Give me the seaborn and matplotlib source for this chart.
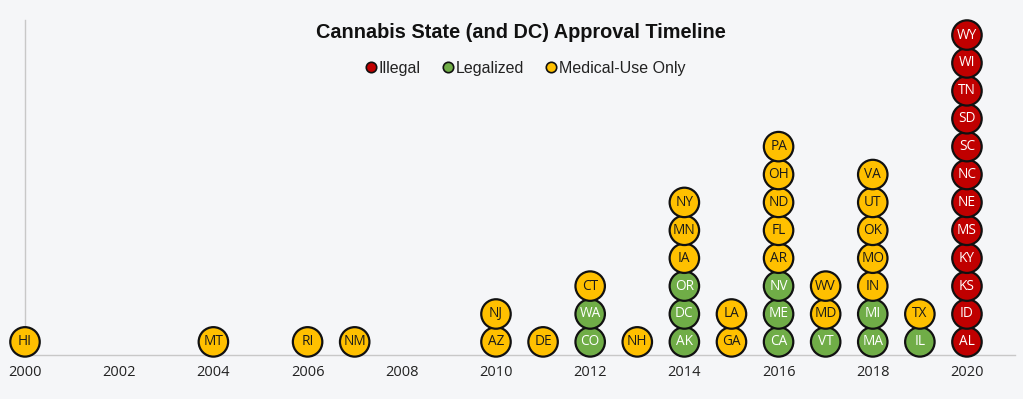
import matplotlib
matplotlib.use("Agg")
import matplotlib.pyplot as plt
import seaborn as sns
import pandas as pd

years = [2000, 2004, 2006, 2007, 2010, 2011, 2012, 2013, 2014, 2015, 2016, 2017, 2018, 2019, 2020]
states = [
    ["HI"], ["MT"], ["RI"], ["NM"], ["AZ", "NJ"], ["DE"],
    ["CO", "WA", "CT"], ["NH"],
    ["AK", "DC", "OR", "IA", "MN", "NY"],
    ["GA", "LA"],
    ["CA", "ME", "NV", "AR", "FL", "ND", "OH", "PA"],
    ["VT", "MD", "WV"],
    ["MA", "MI", "IN", "MO", "OK", "UT", "VA"],
    ["IL", "TX"],
    ["AL", "ID", "KS", "KY", "MS", "NE", "NC", "SC", "SD", "TN", "WI", "WY"],
]
L, M, I = "Legalized", "Medical-Use Only", "Illegal"
statuses = [
    [M], [M], [M], [M], [M, M], [M],
    [L, L, M], [M],
    [L, L, L, M, M, M],
    [M, M],
    [L, L, L, M, M, M, M, M],
    [L, M, M],
    [L, L, M, M, M, M, M],
    [L, M],
    [I] * 12,
]
status_order = ["Illegal", "Legalized", "Medical-Use Only"]
palette = {"Illegal": "#C00000", "Legalized": "#70AD47", "Medical-Use Only": "#FFC000"}
text_color = {"Illegal": "white", "Legalized": "white", "Medical-Use Only": "#1a1a1a"}
xticks = list(range(2000, 2021, 2))

rows = []
for y, sts, stt in zip(years, states, statuses):
    for lvl, (s, t) in enumerate(zip(sts, stt)):
        rows.append({"year": y, "level": lvl, "state": s, "status": t})
df = pd.DataFrame(rows)

sns.set_theme(style="white")
bg = "#F5F6F8"
fig = plt.figure(figsize=(10.23, 3.99), dpi=100, facecolor=bg)
ax = fig.add_axes([25 / 1023, 1 - 355 / 399, 990 / 1023, 335 / 399])
ax.set_facecolor(bg)

sns.scatterplot(data=df, x="year", y="level", hue="status", hue_order=status_order,
                palette=palette, s=450, edgecolor="#111111", linewidth=1.6, ax=ax,
                zorder=3, clip_on=False)

for _, r in df.iterrows():
    ax.text(r["year"], r["level"], r["state"], ha="center", va="center",
            fontsize=9.8, family="Open Sans", color=text_color[r["status"]], zorder=4)

ax.set_xlim(2000, 2021.02)
ax.set_ylim(-0.47, 11.54)
ax.set_xticks(xticks)
ax.set_xticklabels([str(t) for t in xticks], family="Open Sans", fontsize=10.5, color="#222222")
ax.set_yticks([])
ax.set_xlabel("")
ax.set_ylabel("")
ax.tick_params(axis="x", length=0, pad=7)
for sp in ["top", "right"]:
    ax.spines[sp].set_visible(False)
for sp in ["left", "bottom"]:
    ax.spines[sp].set_color("#C8C8C8")
    ax.spines[sp].set_linewidth(1)

sns.move_legend(ax, "center", bbox_to_anchor=(522 / 1023, 1 - 68 / 399), bbox_transform=fig.transFigure,
                ncol=3, frameon=False, title=None, handletextpad=-0.3, columnspacing=1.0,
                handlelength=1.6)
leg = ax.get_legend()
for h in leg.legend_handles:
    try:
        h.set_markersize(7.5)
    except Exception:
        h.set_sizes([50])
    try:
        h.set_markeredgewidth(1.2)
    except Exception:
        pass
for t in leg.get_texts():
    t.set_color("#222222")
    t.set_fontfamily("Liberation Sans")
    t.set_fontsize(11.5)

fig.text(520.5 / 1023, 1 - 32 / 399, "Cannabis State (and DC) Approval Timeline", ha="center", va="center",
         fontsize=14.3, fontweight="bold", family="Liberation Sans", color="#111111")

fig.savefig("out.png", dpi=100, facecolor=bg)
